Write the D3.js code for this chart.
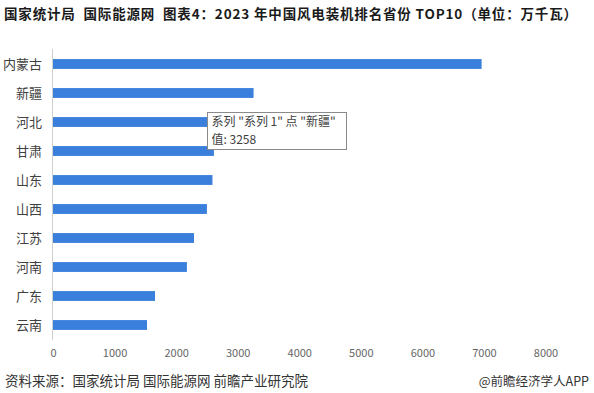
<!DOCTYPE html>
<html>
<head>
<meta charset="utf-8">
<script src="https://cdn.jsdelivr.net/npm/d3@7"></script>
<style>
  body { margin: 0; background: #fff; }
  svg { display: block; font-family: "Noto Sans CJK SC", "Noto Sans", sans-serif; }
</style>
</head>
<body>
<div id="chart-area"></div>
<script>
// data
var provinces = ["内蒙古", "新疆", "河北", "甘肃", "山东", "山西", "江苏", "河南", "广东", "云南"];
var capacity = [6962, 3258, 3140, 2614, 2590, 2500, 2290, 2175, 1657, 1527];
var xTicks = [0, 1000, 2000, 3000, 4000, 5000, 6000, 7000, 8000];

var title = "国家统计局  国际能源网  图表4：2023 年中国风电装机排名省份 TOP10（单位：万千瓦）";
var source = "资料来源：国家统计局 国际能源网 前瞻产业研究院";
var brand = "@前瞻经济学人APP";

var data = provinces.map((p, i) => { return {name: p, value: capacity[i]}; });

var W = 594, H = 393;
var svg = d3.select("#chart-area").append("svg")
    .attr("width", W)
    .attr("height", H);

var x = d3.scaleLinear()
    .domain([0, 8000])
    .range([53, 545.5]);

var y = d3.scaleBand()
    .domain(provinces)
    .range([49.5, 339.5])
    .paddingInner(0.66)
    .paddingOuter(0.33);

// title
svg.append("text")
    .attr("x", 4)
    .attr("y", 19)
    .attr("font-size", 13.5)
    .attr("font-weight", "bold")
    .attr("fill", "#1a1a1a")
    .style("white-space", "pre")
    .attr("textLength", 573)
    .attr("lengthAdjust", "spacing")
    .text(title);

// bars
svg.selectAll("rect.bar")
    .data(data)
    .enter()
    .append("rect")
        .attr("class", "bar")
        .attr("x", x(0))
        .attr("y", (d) => { return y(d.name); })
        .attr("width", (d) => { return x(d.value) - x(0); })
        .attr("height", y.bandwidth())
        .attr("fill", "#3a7fdc");

// category axis line
svg.append("line")
    .attr("x1", x(0) - 0.5).attr("x2", x(0) - 0.5)
    .attr("y1", 49).attr("y2", 340)
    .attr("stroke", "#d0d0d0");

// category labels
svg.selectAll("text.cat")
    .data(provinces)
    .enter()
    .append("text")
        .attr("class", "cat")
        .attr("x", 42)
        .attr("y", (d) => { return y(d) + y.bandwidth() / 2; })
        .attr("dy", "0.35em")
        .attr("text-anchor", "end")
        .attr("font-size", 13)
        .attr("fill", "#404040")
        .text((d) => { return d; });

// value axis
var xAxis = d3.axisBottom(x)
    .tickValues(xTicks)
    .tickFormat(d3.format("d"))
    .tickSize(0)
    .tickPadding(0);

var gx = svg.append("g")
    .attr("transform", "translate(0,349)")
    .call(xAxis);
gx.select(".domain").remove();
gx.selectAll("text")
    .attr("font-size", 11)
    .attr("fill", "#666")
    .attr("font-family", "'Noto Sans CJK SC', sans-serif");

// footer
svg.append("text")
    .attr("x", 5)
    .attr("y", 386)
    .attr("font-size", 13.5)
    .attr("fill", "#333")
    .text(source);

svg.append("text")
    .attr("x", 589)
    .attr("y", 386)
    .attr("text-anchor", "end")
    .attr("font-size", 12.5)
    .attr("fill", "#333")
    .text(brand);

// tooltip box over 新疆
var tip = svg.append("g").attr("transform", "translate(207.5,112.5)");
tip.append("rect")
    .attr("width", 139)
    .attr("height", 37)
    .attr("fill", "#fff")
    .attr("stroke", "#8a8a8a");
tip.append("text")
    .attr("x", 4)
    .attr("y", 13.5)
    .attr("font-size", 12)
    .attr("fill", "#404040")
    .text("系列 \"系列 1\" 点 \"新疆\"");
tip.append("text")
    .attr("x", 4)
    .attr("y", 31)
    .attr("font-size", 12)
    .attr("fill", "#404040")
    .text("值: " + capacity[1]);
</script>
</body>
</html>
